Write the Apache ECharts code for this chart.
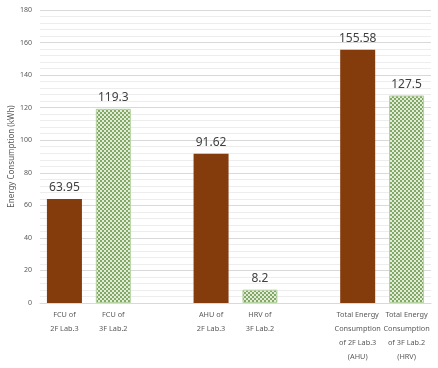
<!DOCTYPE html>
<html><head><meta charset="utf-8">
<script src="https://cdn.jsdelivr.net/npm/echarts@6/dist/echarts.min.js"></script>
<style>html,body{margin:0;padding:0;background:#fff}#c{width:438px;height:368px}</style>
</head><body><div id="c"></div>
<script>
const categories = ['FCU of\n2F Lab.3','FCU of\n3F Lab.2','','AHU of\n2F Lab.3','HRV of\n3F Lab.2','','Total Energy\nConsumption\nof 2F Lab.3\n(AHU)','Total Energy\nConsumption\nof 3F Lab.2\n(HRV)'];
const values = [63.95, 119.3, null, 91.62, 8.2, null, 155.58, 127.5];
const kinds = ['brown','green',null,'brown','green',null,'brown','green'];
const yTicks = {min:0, max:180, interval:20};

const cv = document.createElement('canvas');
cv.width = 4; cv.height = 4;
const g = cv.getContext('2d');
g.fillStyle = '#e2ecd8'; g.fillRect(0,0,4,4);
g.fillStyle = '#82a866';
g.fillRect(0,0,2,2); g.fillRect(2,2,2,2);
const greenPattern = {image: cv, repeat: 'repeat'};

const data = values.map((v,i)=> v==null ? '-' : {
  value: v,
  itemStyle: kinds[i]==='brown' ? {color:'#843c0c'} : {color: greenPattern, borderColor:'#b5d3a0', borderWidth:1}
});

const chart = echarts.init(document.getElementById('c'));
chart.setOption({
  animation:false,
  grid:{left:40, right:7, top:10, bottom:65, containLabel:false, outerBoundsMode:'none'},
  xAxis:{type:'category', data:categories,
    axisLine:{lineStyle:{color:'#d9d9d9'}}, axisTick:{show:false},
    axisLabel:{interval:0, color:'#595959', fontSize:7.3, lineHeight:14, margin:5, fontFamily:'Noto Sans'}},
  yAxis:{type:'value', min:yTicks.min, max:yTicks.max, interval:yTicks.interval,
    name:'Energy Consumption (kWh)', nameLocation:'middle', nameGap:24, nameRotate:90, nameMoveOverlap:false,
    nameTextStyle:{color:'#595959', fontSize:8, fontFamily:'Noto Sans'},
    axisLabel:{color:'#595959', fontSize:7, fontFamily:'Noto Sans'},
    axisLine:{show:false}, axisTick:{show:false},
    splitLine:{lineStyle:{color:'#d9d9d9'}},
    minorTick:{show:false, splitNumber:5},
    minorSplitLine:{show:true, lineStyle:{color:'#ededed'}}},
  series:[{type:'bar', data:data, barWidth:35,
    label:{show:true, position:'top', color:'#404040', fontSize:12, fontFamily:'Noto Sans', distance:5}}]
});
</script></body></html>
